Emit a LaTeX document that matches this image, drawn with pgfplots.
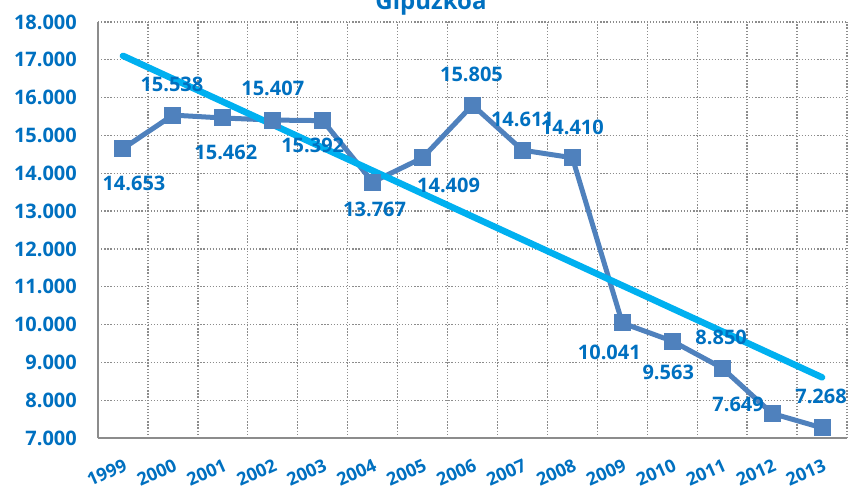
\documentclass[border=0pt]{standalone}
\usepackage{fontspec}
\setmainfont{Open Sans}
\usepackage{pgfplots}
\usepackage{pgfplotstable}
\pgfplotsset{compat=1.18}
\definecolor{lab}{HTML}{0070C0}
\definecolor{ser}{HTML}{4F81BD}
\definecolor{trend}{HTML}{00B0F0}
\definecolor{gridg}{HTML}{8C8C8C}

\pgfplotstableread{
x y dx dy
0 14653 11 -34.5
1 15538 -1 31
2 15462 3 -34
3 15407 0 32
4 15392 -10 -25
5 13767 2 -27
6 14409 26 -28
7 15805 -1 31
8 14611 0 31
9 14410 0 30
10 10041 -13 -29
11 9563 -4 -31
12 8850 -1 31
13 7649 -34 9
14 7268 -1 31
}\data

\begin{document}
\begin{tikzpicture}[x=1pt,y=1pt]
\begin{axis}[
  at={(98pt,55pt)}, anchor=south west,
  scale only axis, width=749pt, height=416pt,
  xmin=-0.5, xmax=14.5, ymin=7000, ymax=18000,
  axis x line=bottom, axis y line=left,
  axis line style={-, draw=gridg, line width=2.5pt},
  xtick={0,...,14},
  xticklabels={1999,2000,2001,2002,2003,2004,2005,2006,2007,2008,2009,2010,2011,2012,2013},
  minor xtick={-0.5,0.5,...,14.5}, xminorgrids=true,
  ytick={7000,8000,...,18000}, ymajorgrids=true,
  major tick length=0pt, minor tick length=0pt,
  major grid style={draw=gridg, line width=1.3pt, dash pattern=on 1.3pt off 1.8pt},
  minor grid style={draw=gridg, line width=1.3pt, dash pattern=on 1.3pt off 1.8pt},
  tick label style={font=\fontsize{20}{24}\selectfont\bfseries, text=lab},
  yticklabel style={anchor=east, inner sep=0pt, xshift=-21pt},
  xticklabel style={yshift=-20pt, rotate=24, anchor=north east, inner sep=0pt,
    font=\fontsize{18}{20}\selectfont\bfseries},
  scaled y ticks=false,
  /pgf/number format/1000 sep={.},
  /pgf/number format/assume math mode=true,
  clip=false,
]
\addplot[ser, line width=5pt, mark=square*, mark size=6pt, mark options={solid, fill=ser}] table[x=x, y=y] {\data};
\addplot[draw=none, mark=none, nodes near coords, point meta=explicit,
  visualization depends on={\thisrow{dx} \as \dx},
  visualization depends on={\thisrow{dy} \as \dy},
  nodes near coords style={anchor=center, inner sep=0pt, xshift=\dx pt, yshift=\dy pt,
    font=\fontsize{20}{24}\selectfont\bfseries, text=lab}]
  table[x=x, y=y, meta=y] {\data};
\addplot[trend, line width=6.5pt, line cap=round] coordinates {(0,17106) (14,8604)};
\end{axis}
\node[anchor=base, font=\fontsize{24}{28}\selectfont\bfseries, text=lab] at (431pt,483pt) {Gipuzkoa};
\pgfresetboundingbox
\useasboundingbox (0,0) rectangle (850pt,493pt);
\end{tikzpicture}
\end{document}
